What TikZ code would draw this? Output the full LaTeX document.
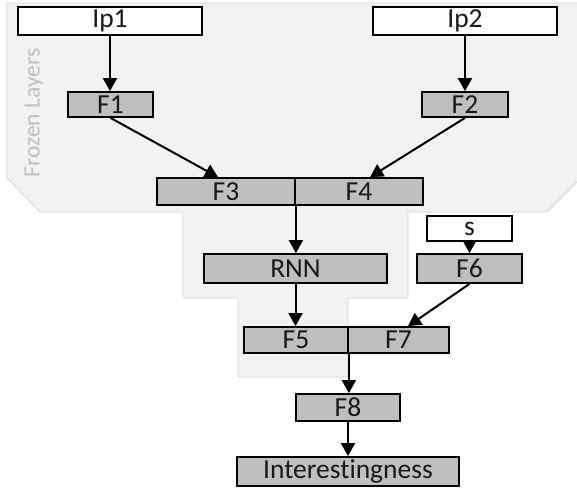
\documentclass[tikz,border=0pt]{standalone}
\usepackage{fontspec}
\setmainfont{Carlito}[Ligatures={NoCommon}]
\usepackage{tikz}
\usetikzlibrary{arrows.meta,positioning,calc}
\definecolor{frozenfill}{HTML}{F2F2F2}
\definecolor{frozenline}{HTML}{D4D4D4}
\definecolor{boxgray}{HTML}{BFBFBF}
\begin{document}
\begin{tikzpicture}
	[ x=1pt, y=-1pt,
	  lay/.style={ draw, line width=1.8pt, fill=boxgray, inner sep=0pt,
	  text=black!90, font=\fontsize{27.5}{30}\selectfont },
	  inp/.style={ lay, fill=white },
	  arr/.style={ -{Triangle[length=13pt,width=14pt]}, line width=2pt },
	]
	\useasboundingbox (0,0) rectangle (577,491);
	\fill[frozenfill, draw=frozenline, line width=0.8pt]
	  (7,3) -- (581,3) -- (581,178) -- (547,212) -- (408,212) -- (408,298)
	  -- (348,298) -- (348,377) -- (238,377) -- (238,298) -- (183,298)
	  -- (183,212) -- (40,212) -- (7,178) -- cycle;
	\node[rotate=90, text=boxgray, font=\fontsize{23.5}{26}\selectfont] (frz) at (34,113) {Frozen Layers};

	\node[inp, minimum width=184pt, minimum height=28pt] (Ip1) at (110,21) {Ip1};
	\node[inp, minimum width=184pt, minimum height=28pt] (Ip2) at (465,21) {Ip2};
	\node[lay, minimum width=85pt, minimum height=25pt] (F1) at (110.5,104.5) {F1};
	\node[lay, minimum width=86pt, minimum height=25pt] (F2) at (465,104.5) {F2};
	\node[lay, minimum width=138pt, minimum height=27pt] (F3) at (226,191.5) {F3};
	\node[lay, minimum width=128pt, minimum height=27pt] (F4) at (359,191.5) {F4};
	\node[inp, minimum width=85pt, minimum height=25pt] (s) at (469.5,228.5) {s};
	\node[lay, minimum width=183pt, minimum height=29pt] (RNN) at (295.5,268.5) {RNN};
	\node[lay, minimum width=105pt, minimum height=29pt] (F6) at (469.5,268.5) {F6};
	\node[lay, minimum width=104pt, minimum height=26pt] (F5) at (296,340) {F5};
	\node[lay, minimum width=101pt, minimum height=26pt] (F7) at (398.5,340) {F7};
	\node[lay, minimum width=104pt, minimum height=27pt] (F8) at (348,407.5) {F8};
	\node[lay, minimum width=222pt, minimum height=29pt] (Int) at (348,471.5) {Interestingness};

	\foreach \a/\b in {Ip1/F1, Ip2/F2, s/F6, F8/Int}{
		\draw[arr] (\a.south) -- (\a.south |- \b.north);
	}
	\draw[arr] (F3.south east) -- (F3.south east |- RNN.north);
	\draw[arr] (RNN.south) -- (RNN.south |- F5.north);
	\draw[arr] (F5.south east) -- (F5.south east |- F8.north);
	\draw[arr] (F1.south) -- ([xshift=-8pt]F3.north);
	\draw[arr] (F2.south) -- ([xshift=11pt]F4.north);
	\draw[arr] (F6.south) -- ([xshift=9.5pt]F7.north);
\end{tikzpicture}
\end{document}
